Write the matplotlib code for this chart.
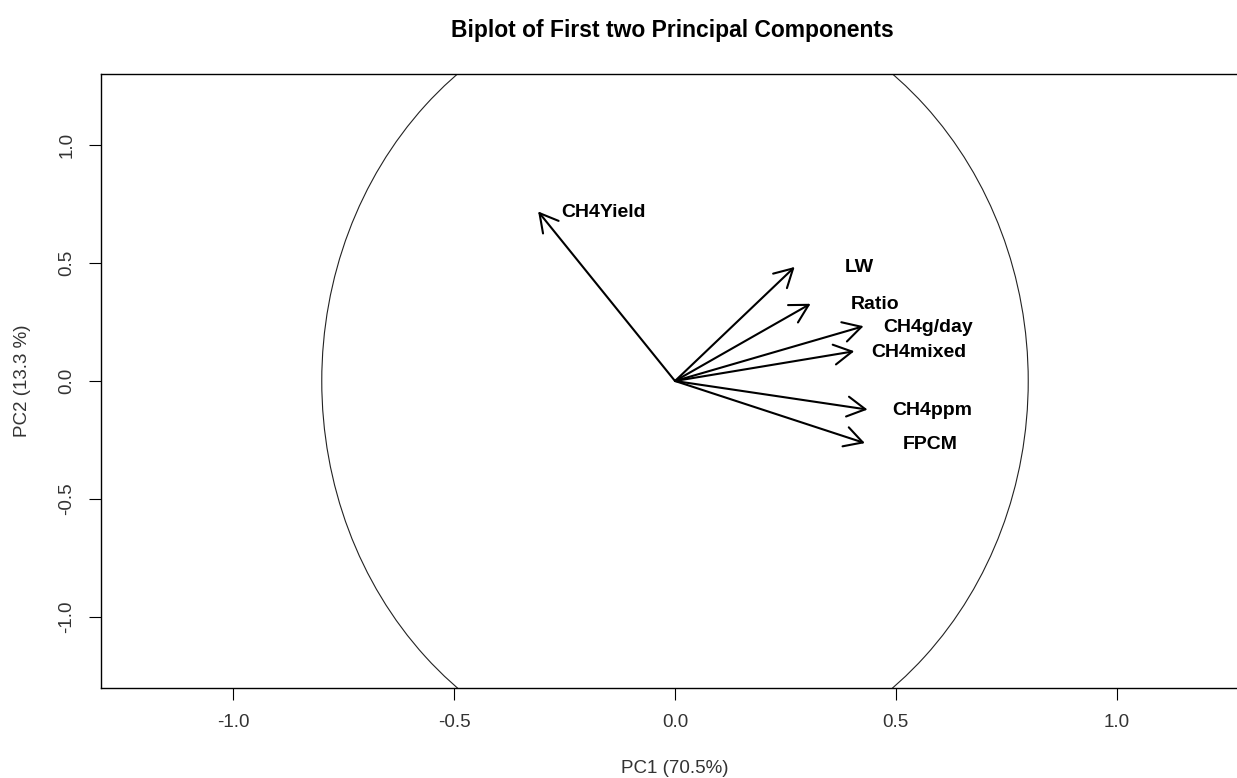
import matplotlib.pyplot as plt
from matplotlib.patches import Ellipse

plt.rcParams['font.family'] = ['Liberation Sans', 'DejaVu Sans']

# loadings on PC1 / PC2
variables = ["CH4Yield", "LW", "Ratio", "CH4g/day", "CH4mixed", "CH4ppm", "FPCM"]
pc1 = [-0.31, 0.271, 0.307, 0.427, 0.406, 0.436, 0.430]
pc2 = [0.718, 0.483, 0.327, 0.232, 0.126, -0.121, -0.263]

xticks = [-1.0, -0.5, 0.0, 0.5, 1.0]
yticks = [-1.0, -0.5, 0.0, 0.5, 1.0]

fig = plt.figure(figsize=(12.37, 7.78), dpi=100)
# axes run past the right edge of the figure, as in the original
ax = fig.add_axes([101 / 1237, 90 / 778, 1148 / 1237, 614 / 778])

ax.add_patch(Ellipse((0, 0), 1.6, 3.3, fill=False, edgecolor='#222222', lw=0.8))

for i in range(len(variables)):
    ax.annotate('', xy=(pc1[i], pc2[i]), xytext=(0, 0),
                arrowprops=dict(arrowstyle='->,head_length=1.3,head_width=0.72',
                                lw=1.5, color='black', shrinkA=0, shrinkB=0))
    ax.annotate(variables[i], xy=(pc1[i], pc2[i]), xytext=(65, -1),
                textcoords='offset pixels', ha='center', va='center',
                fontsize=14, fontweight='bold')

ax.set_xlim(-1.3, 1.3)
ax.set_ylim(-1.3, 1.3)
ax.set_xticks(xticks)
ax.set_yticks(yticks)
ax.set_xticklabels(['%.1f' % v for v in xticks])
ax.set_yticklabels(['%.1f' % v for v in yticks], rotation=90, va='center')
ax.tick_params(direction='out', length=8.5, width=0.8, pad=10, labelsize=13.5,
               labelcolor='#333333')

for s in ['left', 'top', 'bottom']:
    ax.spines[s].set_linewidth(1.0)
ax.spines['right'].set_visible(False)

ax.set_xlabel('PC1 (70.5%)', fontsize=13.5, color='#333333', labelpad=21)
ax.set_ylabel('PC2 (13.3 %)', fontsize=13.5, color='#333333', labelpad=20)

fig.text(672 / 1237, 1 - 30 / 778, 'Biplot of First two Principal Components',
         ha='center', va='center', fontsize=16.5, fontweight='bold')

fig.savefig('out.png', dpi=100)
